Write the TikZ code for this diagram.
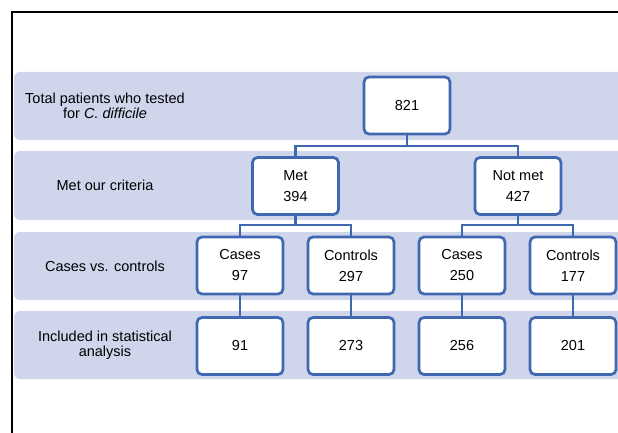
\documentclass[tikz,border=0pt]{standalone}
\usepackage{fontspec}
\setmainfont{Liberation Sans}
\definecolor{bandfill}{RGB}{207,213,234}
\definecolor{boxblue}{RGB}{64,104,176}
\tikzset{
  band/.style={fill=bandfill, draw=none, rounded corners=6pt},
  rowlabel/.style={align=center, font=\fontsize{14.5}{15}\selectfont, inner sep=0pt},
  numbox/.style={draw=boxblue, line width=2.7pt, fill=white, rounded corners=5pt,
    minimum width=86pt, minimum height=57pt, align=center, inner sep=0pt,
    font=\fontsize{14.5}{21}\selectfont},
  conn/.style={draw=boxblue, line width=2.6pt},
  frameline/.style={draw=black, line width=2pt}
}
\begin{document}
\begin{tikzpicture}[x=1pt,y=-1pt]
\useasboundingbox (0,0) rectangle (618,433);
\clip (0,0) rectangle (618,433);
% frame
\draw[frameline] (12,440) -- (12,12) -- (630,12);
% bands
\fill[band] (14,72) rectangle (640,140);
\fill[band] (14,151) rectangle (640,220);
\fill[band] (14,232) rectangle (640,300);
\fill[band] (14,311) rectangle (640,379);
% row labels
\node[rowlabel] (l1) at (105,106) {Total patients who tested\\for \textit{C. difficile}};
\node[rowlabel] (l2) at (105,185.5) {Met our criteria};
\node[rowlabel] (l3) at (105,266) {Cases vs. controls};
\node[rowlabel] (l4) at (105,345) {Included in statistical\\analysis};
% bus coordinates
\coordinate (bus1) at (0,146);
\coordinate (bus2) at (0,225);
% boxes
\node[numbox] (total) at (407,105.5) {821};
\node[numbox] (met) at (295.5,186) {Met\\394};
\node[numbox] (notmet) at (518,186) {Not met\\427};
\node[numbox] (case1) at (240,265.5) {Cases\\97};
\node[numbox] (ctrl1) at (351,265.5) {Controls\\297};
\node[numbox] (case2) at (462,265.5) {Cases\\250};
\node[numbox] (ctrl2) at (573,265.5) {Controls\\177};
\node[numbox] (inc1) at (240,346) {91};
\node[numbox] (inc2) at (351,346) {273};
\node[numbox] (inc3) at (462,346) {256};
\node[numbox] (inc4) at (573,346) {201};
% connectors
\draw[conn] (total.south) -- (total.south |- bus1) -| (met.north);
\draw[conn] (total.south |- bus1) -| (notmet.north);
\draw[conn] (met.south) -- (met.south |- bus2) -| (case1.north);
\draw[conn] (met.south |- bus2) -| (ctrl1.north);
\draw[conn] (notmet.south) -- (notmet.south |- bus2) -| (case2.north);
\draw[conn] (notmet.south |- bus2) -| (ctrl2.north);
\draw[conn] (case1.south) -- (inc1.north);
\draw[conn] (ctrl1.south) -- (inc2.north);
\draw[conn] (case2.south) -- (inc3.north);
\draw[conn] (ctrl2.south) -- (inc4.north);
\end{tikzpicture}
\end{document}
